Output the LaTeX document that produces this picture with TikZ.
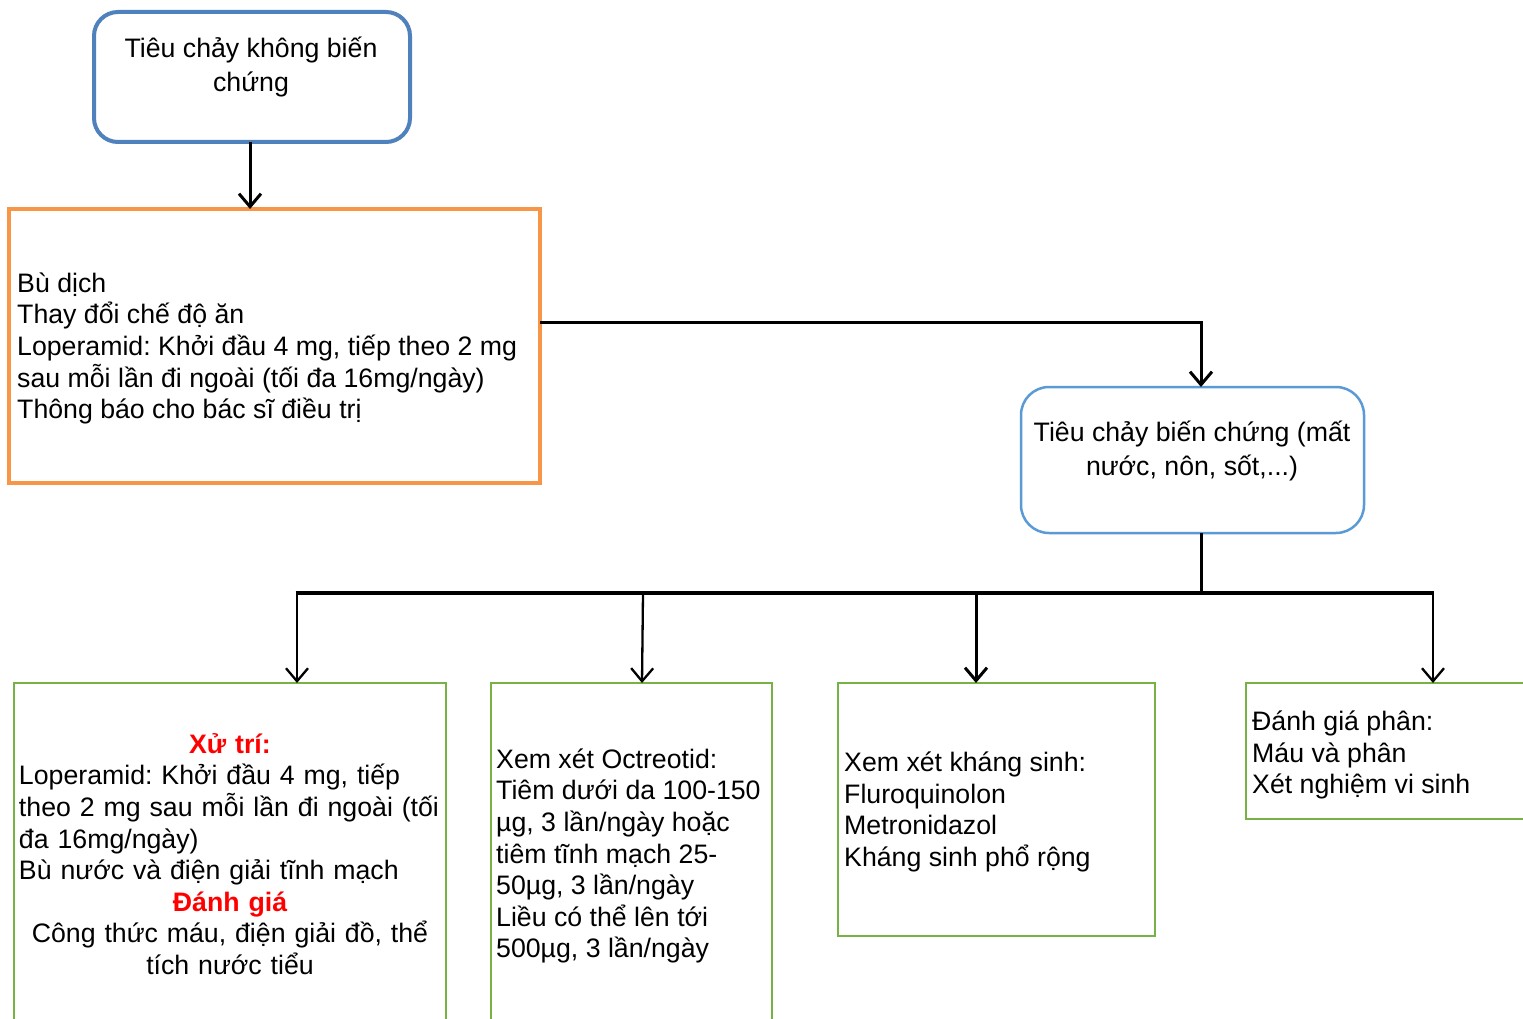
\documentclass[tikz,border=0pt]{standalone}
\usepackage{fontspec}
\setmainfont{Liberation Sans}
\frenchspacing
\usetikzlibrary{arrows.meta}
\definecolor{boxblue}{HTML}{4F81BD}
\definecolor{boxlblue}{HTML}{5B9BD5}
\definecolor{boxorange}{HTML}{F79646}
\definecolor{boxgreen}{HTML}{77B246}
\definecolor{txtred}{HTML}{FF0000}
\begin{document}
\begin{tikzpicture}[x=1pt,y=-1pt,
  boxbase/.style={rectangle, inner sep=0pt, outer sep=0pt},
  bluebox/.style={boxbase, draw=boxblue, line width=4pt, rounded corners=24pt},
  lbluebox/.style={boxbase, draw=boxlblue, line width=2.5pt, rounded corners=28pt},
  orangebox/.style={boxbase, draw=boxorange, line width=4pt},
  greenbox/.style={boxbase, draw=boxgreen, line width=2.5pt},
  txt/.style={inner sep=0pt, font=\fontsize{26.7}{31.6}\selectfont\frenchspacing},
  ctxt/.style={txt, align=center, font=\fontsize{26.7}{33.5}\selectfont\frenchspacing},
  ltxt/.style={txt, align=left, anchor=west},
  conn/.style={line width=3pt},
  arr/.style={line width=3pt, -{Straight Barb[length=13pt,width=22pt]}},
  tarr/.style={line width=2.3pt, -{Straight Barb[length=13pt,width=22pt]}}
]
\useasboundingbox (0,0) rectangle (1523,1019);
\fill[white] (0,0) rectangle (1523,1019);

% boxes
\node[bluebox, minimum width=316pt, minimum height=130pt] (b1) at (252,77) {};
\node[orangebox, minimum width=531pt, minimum height=274pt] (b2) at (274.5,346) {};
\node[lbluebox, minimum width=343pt, minimum height=146pt] (b3) at (1192.5,460) {};
\node[greenbox, minimum width=432pt, minimum height=360pt] (b4) at (230,863) {};
\node[greenbox, minimum width=281pt, minimum height=360pt] (b5) at (631.5,863) {};
\node[greenbox, minimum width=317pt, minimum height=253pt] (b6) at (996.5,809.5) {};
\node[greenbox, minimum width=300pt, minimum height=136pt] (b7) at (1396,751) {};

% texts
\node[ctxt] (t1) at (251,67) {Tiêu chảy không biến\\chứng};
\node[ltxt] (t2) at (17,348.5) {Bù dịch\\Thay đổi chế độ ăn\\Loperamid: Khởi đầu 4 mg, tiếp theo 2 mg\\sau mỗi lần đi ngoài (tối đa 16mg/ngày)\\Thông báo cho bác sĩ điều trị};
\node[ctxt] (t3) at (1192,451) {Tiêu chảy biến chứng (mất\\nước, nôn, sốt,...)};
\node[txt, text width=422pt] (t4) at (230,854) {%
  {\centering\color{txtred}\bfseries Xử trí:\par}%
  {\raggedright Loperamid: Khởi đầu 4 mg, tiếp\\theo 2 mg sau mỗi lần đi ngoài (tối\\đa 16mg/ngày)\\Bù nước và điện giải tĩnh mạch\par}%
  {\centering{\color{txtred}\bfseries Đánh giá}\\Công thức máu, điện giải đồ, thể\\tích nước tiểu\par}};
\node[ltxt] (t5) at (496,856) {Xem xét Octreotid:\\Tiêm dưới da 100-150\\µg, 3 lần/ngày hoặc\\tiêm tĩnh mạch 25-\\50µg, 3 lần/ngày\\Liều có thể lên tới\\500µg, 3 lần/ngày};
\node[ltxt] (t6) at (844,812) {Xem xét kháng sinh:\\Fluroquinolon\\Metronidazol\\Kháng sinh phổ rộng};
\node[ltxt] (t7) at (1252,755) {Đánh giá phân:\\Máu và phân\\Xét nghiệm vi sinh};

% junction coordinates
\coordinate (j1) at (1201,322);
\coordinate (j2) at (1201,593);
\coordinate (bl) at (297,593);
\coordinate (bm1) at (643,593);
\coordinate (bm2) at (976,593);
\coordinate (br) at (1433,593);

% connectors
\draw[arr] (b1.south -| 250,0) -- (b2.north -| 250,0);
\draw[arr] (b2.east |- j1) -- (j1) -- (b3.north -| j1);
\draw[conn] (b3.south -| j2) -- (j2);
\draw[line width=3.5pt] ([xshift=-1.5pt]bl) -- ([xshift=1.2pt]br);
\draw[tarr] (bl) -- (b4.north -| bl);
\draw[tarr] (bm1) -- (b5.north -| 642,0);
\draw[arr] (bm2) -- (b6.north -| bm2);
\draw[tarr] (br) -- (b7.north -| br);
\end{tikzpicture}
\end{document}
